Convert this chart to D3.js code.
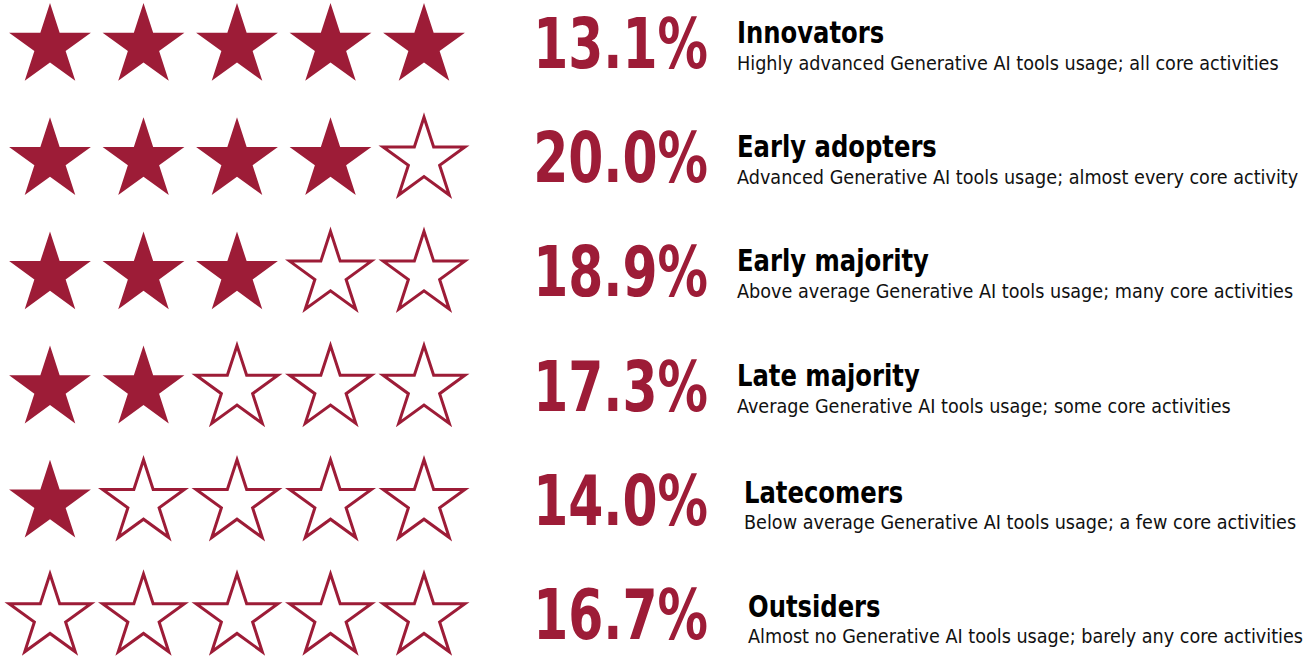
<!DOCTYPE html>
<html>
<head>
<meta charset="utf-8">
<title>Generative AI adoption segments</title>
<script src="https://cdn.jsdelivr.net/npm/d3@7/dist/d3.min.js"></script>
<style>
  body { margin: 0; background: #fff; }
  text { font-family: "DejaVu Sans Condensed", "Liberation Sans", sans-serif; }
  .pct { font-weight: bold; fill: #9d1c37; }
  .title { font-weight: bold; fill: #000; }
  .desc { fill: #111; }
</style>
</head>
<body>
<div id="chart"></div>
<script>
// data
const segments = ["Innovators", "Early adopters", "Early majority", "Late majority", "Latecomers", "Outsiders"];
const shares = [13.1, 20.0, 18.9, 17.3, 14.0, 16.7];
const starsFilled = [5, 4, 3, 2, 1, 0];
const descriptions = [
  "Highly advanced Generative AI tools usage; all core activities",
  "Advanced Generative AI tools usage; almost every core activity",
  "Above average Generative AI tools usage; many core activities",
  "Average Generative AI tools usage; some core activities",
  "Below average Generative AI tools usage; a few core activities",
  "Almost no Generative AI tools usage; barely any core activities"
];

// layout
const width = 1310, height = 657;
const red = "#9d1c37";
const starR = 43;
const textNudge = [0, 0, 0, 0, 7, 11];

const svg = d3.select("#chart").append("svg")
    .attr("width", width)
    .attr("height", height);

// row centres
const y = d3.scalePoint()
    .domain(d3.range(segments.length))
    .range([46, 617]);

// star columns
const x = d3.scalePoint()
    .domain(d3.range(5))
    .range([50, 424]);

// regular five point star
const starPts = d3.range(10).map(i => {
  const a = i * Math.PI / 5;
  const r = i % 2 ? starR * 0.382 : starR;
  return [r * Math.sin(a), -r * Math.cos(a)];
});
const starPath = d3.line()(starPts) + "Z";

const rows = svg.selectAll("g.row")
  .data(segments.map((s, i) => ({
      name: s, share: shares[i], filled: starsFilled[i], desc: descriptions[i], i: i
  })))
  .join("g")
    .attr("class", "row")
    .attr("transform", d => `translate(0,${y(d.i)})`);

rows.selectAll("path.star")
  .data(d => d3.range(5).map(k => k < d.filled))
  .join("path")
    .attr("class", "star")
    .attr("d", starPath)
    .attr("transform", (d, k) => `translate(${x(k)},0)`)
    .attr("fill", d => d ? red : "#fff")
    .attr("stroke", d => d ? "none" : red)
    .attr("stroke-width", 3);

// squeeze the text horizontally for the narrow look
rows.append("text")
    .attr("class", "pct")
    .attr("transform", "translate(708,22) scale(0.8,1)")
    .attr("text-anchor", "end")
    .style("font-size", "70px")
    .text(d => d3.format(".1f")(d.share) + "%");

rows.append("text")
    .attr("class", "title")
    .attr("transform", d => `translate(${737 + textNudge[d.i]},${d.i >= 4 ? 0 : -3}) scale(0.9,1)`)
    .style("font-size", "30px")
    .text(d => d.name);

rows.append("text")
    .attr("class", "desc")
    .attr("transform", d => `translate(${737 + textNudge[d.i]},${d.i >= 4 ? 26 : 24}) scale(0.98,1)`)
    .style("font-size", "20px")
    .text(d => d.desc);
</script>
</body>
</html>
